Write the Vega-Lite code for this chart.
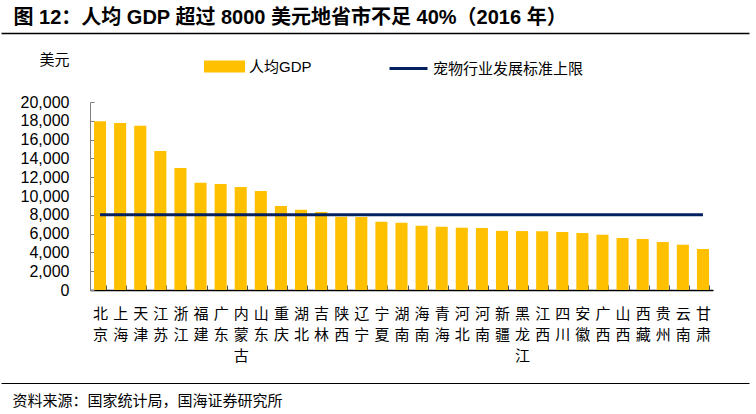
{
  "$schema": "https://vega.github.io/schema/vega-lite/v6.json",
  "padding": {"left": 0, "top": 8, "right": 8, "bottom": 0},
  "background": "white",
  "config": {"view": {"stroke": null}, "concat": {"spacing": 19}},
  "datasets": {
    "gdp": [
      {"province": "北京", "gdp": 17950},
      {"province": "上海", "gdp": 17760},
      {"province": "天津", "gdp": 17480},
      {"province": "江苏", "gdp": 14790},
      {"province": "浙江", "gdp": 12980},
      {"province": "福建", "gdp": 11410},
      {"province": "广东", "gdp": 11280},
      {"province": "内蒙古", "gdp": 10960},
      {"province": "山东", "gdp": 10530},
      {"province": "重庆", "gdp": 8940},
      {"province": "湖北", "gdp": 8540},
      {"province": "吉林", "gdp": 8300},
      {"province": "陕西", "gdp": 7800},
      {"province": "辽宁", "gdp": 7760},
      {"province": "宁夏", "gdp": 7270},
      {"province": "湖南", "gdp": 7160},
      {"province": "海南", "gdp": 6840},
      {"province": "青海", "gdp": 6730},
      {"province": "河北", "gdp": 6630},
      {"province": "河南", "gdp": 6600},
      {"province": "新疆", "gdp": 6290},
      {"province": "黑龙江", "gdp": 6270},
      {"province": "江西", "gdp": 6250},
      {"province": "四川", "gdp": 6170},
      {"province": "安徽", "gdp": 6060},
      {"province": "广西", "gdp": 5880},
      {"province": "山西", "gdp": 5530},
      {"province": "西藏", "gdp": 5430},
      {"province": "贵州", "gdp": 5100},
      {"province": "云南", "gdp": 4820},
      {"province": "甘肃", "gdp": 4360}
    ],
    "sepTop": [{"a": 0}],
    "sepBottom": [{"a": 0}]
  },
  "columns": 1,
  "concat": [
    {
      "width": 748,
      "height": 188,
      "title": {"text": "图 12：人均 GDP 超过 8000 美元地省市不足 40%（2016 年）", "anchor": "start", "dx": 13, "font": "Liberation Sans, Noto Sans CJK SC", "fontSize": 20, "fontWeight": "bold", "color": "#000000", "offset": 5},
      "layer": [
        {
          "data": {"name": "gdp"},
          "encoding": {
            "x": {
              "field": "province", "type": "nominal", "sort": null,
              "scale": {"range": [89, 712], "paddingInner": 0.4, "paddingOuter": 0.2},
              "axis": {"title": null, "labelAngle": 0, "labelExpr": "split(datum.label, '')", "labelFont": "Noto Sans CJK SC", "labelFontSize": 15, "labelLineHeight": 21, "labelColor": "#000000", "labelPadding": 21, "labelBaseline": "top", "tickBand": "extent", "tickSize": -5, "tickColor": "#555555", "domainColor": "#000000", "domainWidth": 1.5}
            }
          },
          "layer": [
            {
              "mark": {"type": "bar"},
              "encoding": {
                "y": {
                  "field": "gdp", "type": "quantitative",
                  "scale": {"domain": [0, 20000]},
                  "axis": {"title": "美元", "titleAngle": 0, "titleX": -51, "titleY": -43, "titleAlign": "left", "titleBaseline": "middle", "titleFont": "Noto Sans CJK SC", "titleFontSize": 15, "titleFontWeight": "normal", "titleColor": "#000000", "values": [0, 2000, 4000, 6000, 8000, 10000, 12000, 14000, 16000, 18000, 20000], "format": ",.0f", "labelOverlap": false, "labelFont": "Liberation Sans", "labelFontSize": 16, "labelColor": "#000000", "offset": -89, "tickSize": -4, "labelPadding": 25, "domainColor": "#7f7f7f", "tickColor": "#7f7f7f", "grid": false}
                },
                "fill": {
                  "datum": "人均GDP",
                  "scale": {"range": ["#FFC000"]},
                  "legend": {"orient": "none", "legendX": 203, "legendY": -56, "title": null, "symbolType": "M-1,-0.29H1V0.29H-1Z", "symbolSize": 1681, "symbolStrokeWidth": 0, "labelFont": "Liberation Sans, Noto Sans CJK SC", "labelFontSize": 15, "labelColor": "#000000", "labelOffset": 4, "padding": 0}
                }
              }
            },
            {
              "mark": {"type": "line", "strokeWidth": 3},
              "encoding": {
                "y": {
                  "datum": 8000, "type": "quantitative",
                  "axis": {"title": "美元", "titleAngle": 0, "titleX": -51, "titleY": -43, "titleAlign": "left", "titleBaseline": "middle", "titleFont": "Noto Sans CJK SC", "titleFontSize": 15, "titleFontWeight": "normal", "titleColor": "#000000", "values": [0, 2000, 4000, 6000, 8000, 10000, 12000, 14000, 16000, 18000, 20000], "format": ",.0f", "labelOverlap": false, "labelFont": "Liberation Sans", "labelFontSize": 16, "labelColor": "#000000", "offset": -89, "tickSize": -4, "labelPadding": 25, "domainColor": "#7f7f7f", "tickColor": "#7f7f7f", "grid": false}
                },
                "stroke": {
                  "datum": "宠物行业发展标准上限",
                  "scale": {"range": ["#002060"]},
                  "legend": {"orient": "none", "legendX": 387, "legendY": -54, "title": null, "symbolType": "stroke", "symbolSize": 1444, "symbolStrokeWidth": 3, "labelFont": "Liberation Sans, Noto Sans CJK SC", "labelFontSize": 15, "labelColor": "#000000", "labelOffset": 4, "padding": 0}
                }
              }
            }
          ]
        },
        {
          "data": {"name": "sepTop"},
          "mark": {"type": "tick", "opacity": 0},
          "encoding": {
            "x": {"field": "a", "type": "quantitative", "scale": {"domain": [0, 1], "range": [0, 748]}, "axis": {"orient": "top", "offset": 69, "title": null, "labels": false, "ticks": false, "grid": false, "domain": true, "domainColor": "#000000", "domainWidth": 1.5}}
          }
        }
      ],
      "resolve": {"scale": {"x": "independent"}, "axis": {"x": "independent"}}
    },
    {
      "width": 748,
      "height": 1,
      "data": {"name": "sepBottom"},
      "mark": {"type": "tick", "opacity": 0},
      "encoding": {
        "x": {"field": "a", "type": "quantitative", "scale": {"domain": [0, 1]}, "axis": {"orient": "bottom", "title": null, "labels": false, "ticks": false, "grid": false, "domain": true, "domainColor": "#000000", "domainWidth": 1.2}}
      },
      "title": {"text": "资料来源：国家统计局，国海证券研究所", "orient": "bottom", "anchor": "start", "dx": 12, "offset": 11, "font": "Noto Sans CJK SC", "fontSize": 15, "fontWeight": "normal", "color": "#000000"}
    }
  ]
}
